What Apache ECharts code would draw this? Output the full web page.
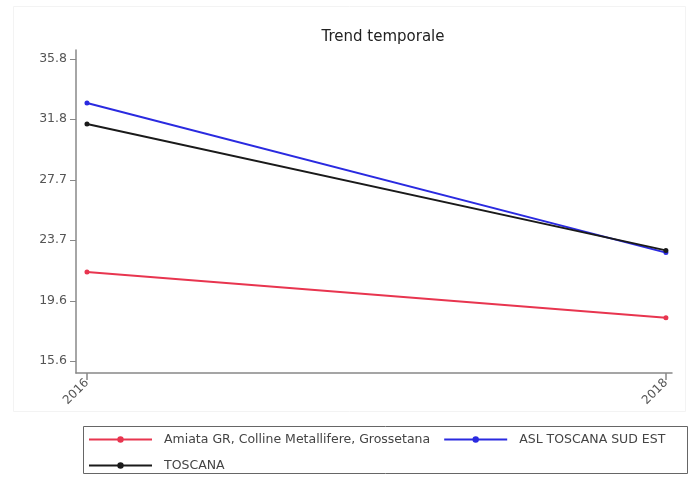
<!DOCTYPE html>
<html>
<head>
<meta charset="utf-8">
<script src="https://cdn.jsdelivr.net/npm/echarts@6/dist/echarts.min.js"></script>
<style>html,body{margin:0;padding:0;background:#fff}#c{width:690px;height:481px}</style>
</head>
<body>
<div id="c"></div>
<script>
const years = [2016, 2018];
const seriesNames = ["Amiata GR, Colline Metallifere, Grossetana", "ASL TOSCANA SUD EST", "TOSCANA"];
const amiata = [21.55, 18.5];
const aslSudEst = [32.85, 22.85];
const toscana = [31.45, 23.0];
const yTicks = [15.6, 19.6, 23.7, 27.7, 31.8, 35.8];
const colors = ["#e8354f", "#2a2ae0", "#1a1a1a"];

const chart = echarts.init(document.getElementById('c'), null, {renderer: 'canvas'});
const font = '"DejaVu Sans", Verdana, sans-serif';
function mk(name, vals, color) {
  return {
    name: name, type: 'line',
    data: years.map((y, i) => [y, vals[i]]),
    symbol: 'circle', symbolSize: 5,
    lineStyle: {width: 2, color: color},
    itemStyle: {color: color},
    emphasis: {disabled: true}
  };
}
const legendCommon = {
  orient: 'horizontal', itemWidth: 63, itemHeight: 8, padding: 0,
  textStyle: {fontFamily: font, fontSize: 12.5, color: '#444', padding: [0, 0, 0, 7]}
};
chart.setOption({
  animation: false,
  backgroundColor: '#fff',
  title: {text: 'Trend temporale', left: 378, top: 25, textAlign: 'center',
    textStyle: {fontFamily: font, fontSize: 15, fontWeight: 'normal', color: '#222'}},
  grid: {left: 76, top: 50, width: 596, height: 323, containLabel: false},
  xAxis: {
    type: 'value', min: 2015.962, max: 2018.021,
    axisLine: {show: true, lineStyle: {color: '#888', width: 1.5}},
    axisTick: {show: true, length: 7, customValues: years, lineStyle: {color: '#888', width: 1.5}},
    axisLabel: {customValues: years, rotate: 45, color: '#555', fontSize: 12, fontFamily: font, margin: 8,
      formatter: v => String(Math.round(v))},
    splitLine: {show: false}
  },
  yAxis: {
    type: 'value', min: 14.8, max: 36.4,
    axisLine: {show: true, lineStyle: {color: '#888', width: 1.5}},
    axisTick: {show: true, length: 6, customValues: yTicks, lineStyle: {color: '#888'}},
    axisLabel: {customValues: yTicks, color: '#555', fontSize: 12.5, fontFamily: font, margin: 9,
      formatter: v => v.toFixed(1)},
    splitLine: {show: false}
  },
  legend: [
    Object.assign({left: 88, top: 433, itemGap: 13, data: [seriesNames[0], seriesNames[1]]}, legendCommon),
    Object.assign({left: 88, top: 459, itemGap: 13, data: [seriesNames[2]]}, legendCommon)
  ],
  graphic: [
    {type: 'rect', shape: {x: 83.5, y: 426.5, width: 604, height: 47},
      style: {fill: 'none', stroke: '#666', lineWidth: 1}, z: -1},
    {type: 'rect', shape: {x: 13.5, y: 6.5, width: 672, height: 405},
      style: {fill: 'none', stroke: '#f3f3f3', lineWidth: 1}, z: -2}
  ],
  series: [
    mk(seriesNames[0], amiata, colors[0]),
    mk(seriesNames[1], aslSudEst, colors[1]),
    mk(seriesNames[2], toscana, colors[2])
  ]
});
</script>
</body>
</html>
